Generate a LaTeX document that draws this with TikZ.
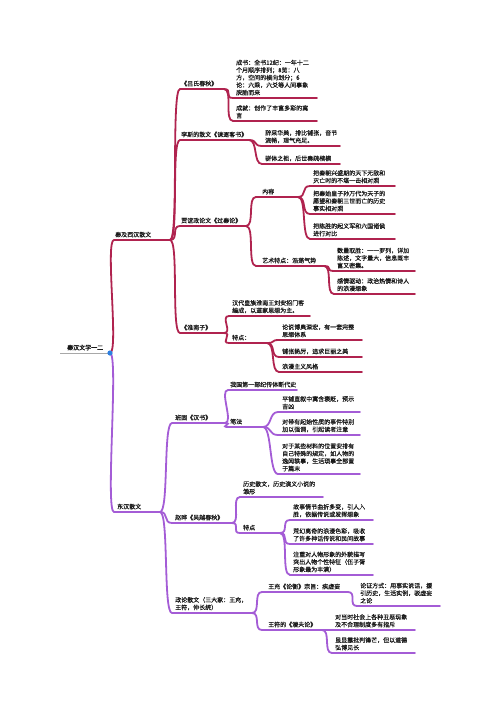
\documentclass[tikz,border=0pt]{standalone}
\usepackage{fontspec}
\setmainfont{Noto Sans CJK SC}[FakeBold=0.4]
\newfontfamily\cjkbold{Noto Sans CJK SC}[FakeBold=2]
\definecolor{crim}{HTML}{B0234F}
\definecolor{purp}{HTML}{A45CD6}
\definecolor{rootgray}{HTML}{A8A8A8}
\definecolor{dotblue}{HTML}{2D7FE0}
\tikzset{
  ul/.style={line width=1.8pt,line cap=round},
  txt/.style={font=\fontsize{6}{7.5}\selectfont, inner sep=0pt, align=left, text=black!90, anchor=south west},
}
% name, colour, x start, x end, line y, text x, text
\newcommand\tp[7]{%
  \coordinate (#1-l) at (#3,#5);
  \coordinate (#1-r) at (#4,#5);
  \draw[#2,ul] (#1-l) -- (#1-r);
  \node[txt] (#1) at (#6,#5-2.5) {#7};}
\newcommand\cn[3]{\draw[#1,ul] (#2-r) .. controls +(9,0) and +(-9,0) .. (#3-l);}
\begin{document}
\begin{tikzpicture}[x=1pt,y=-1pt]
\fill[white] (0,0) rectangle (500,721);
\useasboundingbox (0,0) rectangle (500,721);

% root
\coordinate (R-l) at (60,353);
\coordinate (R-r) at (110,353);
\draw[rootgray,line width=1pt] (R-l) -- (R-r);
\node[txt,font=\fontsize{6}{7.5}\cjkbold] (R) at (67,350.5) {秦汉文学一二};

% level 1
\tp{A}{crim}{114}{170}{240}{115}{秦及西汉散文}
\tp{B}{purp}{114}{160}{512}{117}{东汉散文}
\cn{crim}{R}{A}
\cn{purp}{R}{B}

% ---- A subtree
\tp{A1}{crim}{180}{224}{89}{181}{《吕氏春秋》}
\tp{A2}{crim}{180}{249}{140}{181}{李斯的散文《谏逐客书》}
\tp{A3}{crim}{180}{246}{226}{181}{贾谊政论文《过秦论》}
\tp{A4}{crim}{180}{224}{333}{181}{《淮南子》}
\cn{crim}{A}{A1}\cn{crim}{A}{A2}\cn{crim}{A}{A3}\cn{crim}{A}{A4}

\tp{A1a}{crim}{233}{317}{98}{236}{成书：全书12纪：一年十二\\个月顺序排列；8览：八\\方，空间的横向划分；6\\论：六乘，六爻等人间事象\\脱胎而来}
\tp{A1b}{crim}{233}{317}{121}{236}{成就：创作了丰富多彩的寓\\言}
\cn{crim}{A1}{A1a}\cn{crim}{A1}{A1b}

\tp{A2a}{crim}{262}{340}{146}{265}{辞采华美，排比铺张，音节\\流畅，理气充足。}
\tp{A2b}{crim}{262}{340}{164}{265}{骈体之祖，后世奏疏楷模}
\cn{crim}{A2}{A2a}\cn{crim}{A2}{A2b}

\tp{A3a}{crim}{256}{298}{197}{262}{内容}
\tp{A3b}{crim}{256}{324}{266}{262}{艺术特点：浩荡气势}
\cn{crim}{A3}{A3a}\cn{crim}{A3}{A3b}

\tp{C1}{crim}{310}{395}{186}{313}{把秦朝兴盛期的天下无敌和\\灭亡时的不堪一击相对照}
\tp{C2}{crim}{310}{395}{214}{313}{把秦始皇子孙万代为天子的\\愿望和秦朝三世而亡的历史\\事实相对照}
\tp{C3}{crim}{310}{395}{239}{313}{把陈胜的起义军和六国诸侯\\进行对比}
\cn{crim}{A3a}{C1}\cn{crim}{A3a}{C2}\cn{crim}{A3a}{C3}

\tp{D1}{crim}{334}{415}{271}{337}{数量取胜：一一罗列，详加\\陈述，文字量大，信息既丰\\富又密集。}
\tp{D2}{crim}{334}{415}{294}{337}{感情驱动：政治热情和诗人\\的浪漫想象}
\cn{crim}{A3b}{D1}\cn{crim}{A3b}{D2}

\tp{E1}{crim}{229}{310}{316}{232}{汉代皇族淮南王刘安招门客\\编成，以道家思想为主。}
\tp{E2}{crim}{229}{267}{343}{232}{特点：}
\cn{crim}{A4}{E1}\cn{crim}{A4}{E2}

\tp{F1}{crim}{279}{362}{340}{282}{论说博奥深宏，有一套完整\\思想体系}
\tp{F2}{crim}{279}{362}{357}{282}{铺张扬厉，追求巨丽之美}
\tp{F3}{crim}{279}{362}{372}{282}{浪漫主义风格}
\cn{crim}{E2}{F1}\cn{crim}{E2}{F2}\cn{crim}{E2}{F3}

% ---- B subtree
\tp{B1}{purp}{172}{225}{423}{175}{班固《汉书》}
\tp{B2}{purp}{172}{232}{523}{175}{赵晔《吴越春秋》}
\tp{B3}{purp}{172}{252}{613}{175}{政论散文（三大家：王充，\\王符，仲长统）}
\cn{purp}{B}{B1}\cn{purp}{B}{B2}\cn{purp}{B}{B3}

\tp{G1}{purp}{228}{297}{390}{230}{我国第一部纪传体断代史}
\tp{G2}{purp}{228}{263}{427}{230}{笔法}
\cn{purp}{B1}{G1}\cn{purp}{B1}{G2}

\tp{H1}{purp}{278}{360}{412}{282}{平铺直叙中寓含褒贬，预示\\吉凶}
\tp{H2}{purp}{278}{360}{435}{282}{对带有起始性质的事件特别\\加以强调，引起读者注意}
\tp{H3}{purp}{278}{360}{474}{282}{对于某些材料的位置安排有\\自己特殊的规定，如人物的\\逸闻轶事，生活琐事全部置\\于篇末}
\cn{purp}{G2}{H1}\cn{purp}{G2}{H2}\cn{purp}{G2}{H3}

\tp{I1}{purp}{240}{323}{497}{243}{历史散文，历史演义小说的\\雏形}
\tp{I2}{purp}{240}{280}{533}{243}{特点}
\cn{purp}{B2}{I1}\cn{purp}{B2}{I2}

\tp{J1}{purp}{290}{373}{520}{293}{故事情节曲折多变，引人入\\胜，依据传说或发挥想象}
\tp{J2}{purp}{290}{373}{544}{293}{荒幻离奇的浪漫色彩，吸收\\了许多神话传说和民间故事}
\tp{J3}{purp}{290}{373}{575}{293}{注重对人物形象的外貌描写\\突出人物个性特征（伍子胥\\形象最为丰满）}
\cn{purp}{I2}{J1}\cn{purp}{I2}{J2}\cn{purp}{I2}{J3}

\tp{K1}{purp}{262}{348}{592}{268}{王充《论衡》宗旨：疾虚妄}
\tp{K2}{purp}{262}{322}{630}{268}{王符的《潜夫论》}
\cn{purp}{B3}{K1}\cn{purp}{B3}{K2}

\tp{L1}{purp}{357}{440}{606}{360}{论证方式：用事实说话，援\\引历史，生活实例，驳虚妄\\之论}
\cn{purp}{K1}{L1}

\tp{M1}{purp}{332}{415}{630}{335}{对当时社会上各种丑恶现象\\及不合理制度多有指斥}
\tp{M2}{purp}{332}{415}{653}{335}{虽显露批判锋芒，但以道德\\弘博见长}
\cn{purp}{K2}{M1}\cn{purp}{K2}{M2}

\fill[dotblue] (R-r) circle (2.6);
\end{tikzpicture}
\end{document}
